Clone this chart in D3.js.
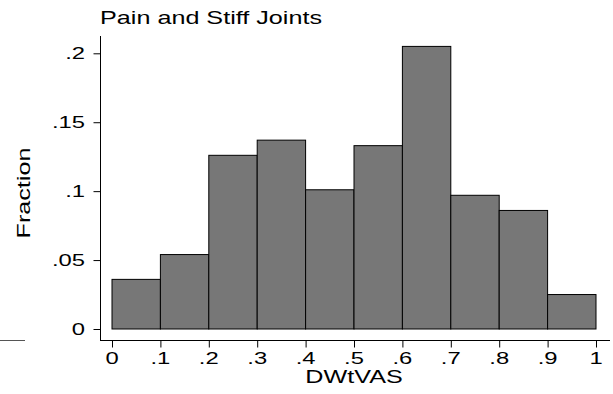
<!DOCTYPE html>
<html>
<head>
<meta charset="utf-8">
<script src="https://cdn.jsdelivr.net/npm/d3@7"></script>
<style>
  html, body { margin: 0; padding: 0; background: #fff; }
  svg { display: block; font-family: "Liberation Sans", Arial, sans-serif; }
</style>
</head>
<body>
<svg id="chart" width="613" height="394"></svg>
<script>
// Histogram of DWtVAS for "Pain and Stiff Joints": bin edges and fraction per bin
const binStarts = [0, 0.1, 0.2, 0.3, 0.4, 0.5, 0.6, 0.7, 0.8, 0.9];
const binWidth = 0.1;
const fractions = [0.036, 0.054, 0.126, 0.137, 0.101, 0.133, 0.205, 0.097, 0.086, 0.025];
const xTicks = [0, 0.1, 0.2, 0.3, 0.4, 0.5, 0.6, 0.7, 0.8, 0.9, 1];
const xTickLabels = ["0", ".1", ".2", ".3", ".4", ".5", ".6", ".7", ".8", ".9", "1"];
const yTicks = [0, 0.05, 0.1, 0.15, 0.2];
const yTickLabels = ["0", ".05", ".1", ".15", ".2"];

const WIDE = 1.4; // horizontal stretch of the wide sans lettering

const svg = d3.select("#chart");

const x = d3.scaleLinear().domain([0, 1]).range([112, 596]);
const y = d3.scaleLinear().domain([0, 0.2]).range([329, 53.3]);

// bars
svg.append("g")
  .selectAll("rect")
  .data(binStarts.map((s, i) => ({ s, v: fractions[i] })))
  .join("rect")
  .attr("x", d => x(d.s))
  .attr("y", d => y(d.v))
  .attr("width", d => x(d.s + binWidth) - x(d.s))
  .attr("height", d => y(0) - y(d.v))
  .attr("fill", "#777777")
  .attr("stroke", "#000")
  .attr("stroke-width", 1);

// y axis (ticks only; labels drawn below)
const gy = svg.append("g").attr("transform", "translate(100.5,0)")
  .call(d3.axisLeft(y).tickValues(yTicks).tickFormat("").tickSize(7));
gy.select(".domain").attr("d", "M0,36V340.5");

// x axis
const gx = svg.append("g").attr("transform", "translate(0,340.5)")
  .call(d3.axisBottom(x).tickValues(xTicks).tickFormat("").tickSize(7));
gx.select(".domain").attr("d", "M100,0H610");

[gx, gy].forEach(g => g.selectAll("line, path").attr("stroke", "#000"));

// stretched label helper
function label(px, py, str, size, anchor, rot) {
  svg.append("text")
    .attr("transform", `translate(${px},${py})` + (rot ? ` rotate(${rot})` : "") + ` scale(${WIDE},1)`)
    .attr("text-anchor", anchor)
    .attr("font-size", size)
    .attr("fill", "#000")
    .text(str);
}

yTicks.forEach((v, i) => label(85, y(v) + 6, yTickLabels[i], 17, "end"));
xTicks.forEach((v, i) => label(x(v), 364, xTickLabels[i], 17, "middle"));

// small stray rule at the left edge
svg.append("line")
  .attr("x1", 0).attr("x2", 25)
  .attr("y1", 340.5).attr("y2", 340.5)
  .attr("stroke", "#555");

// title and axis titles
label(100, 23.5, "Pain and Stiff Joints", 18, "start");
label((x(0) + x(1)) / 2, 383, "DWtVAS", 18, "middle");
label(30, 193, "Fraction", 18, "middle", -90);
</script>
</body>
</html>
